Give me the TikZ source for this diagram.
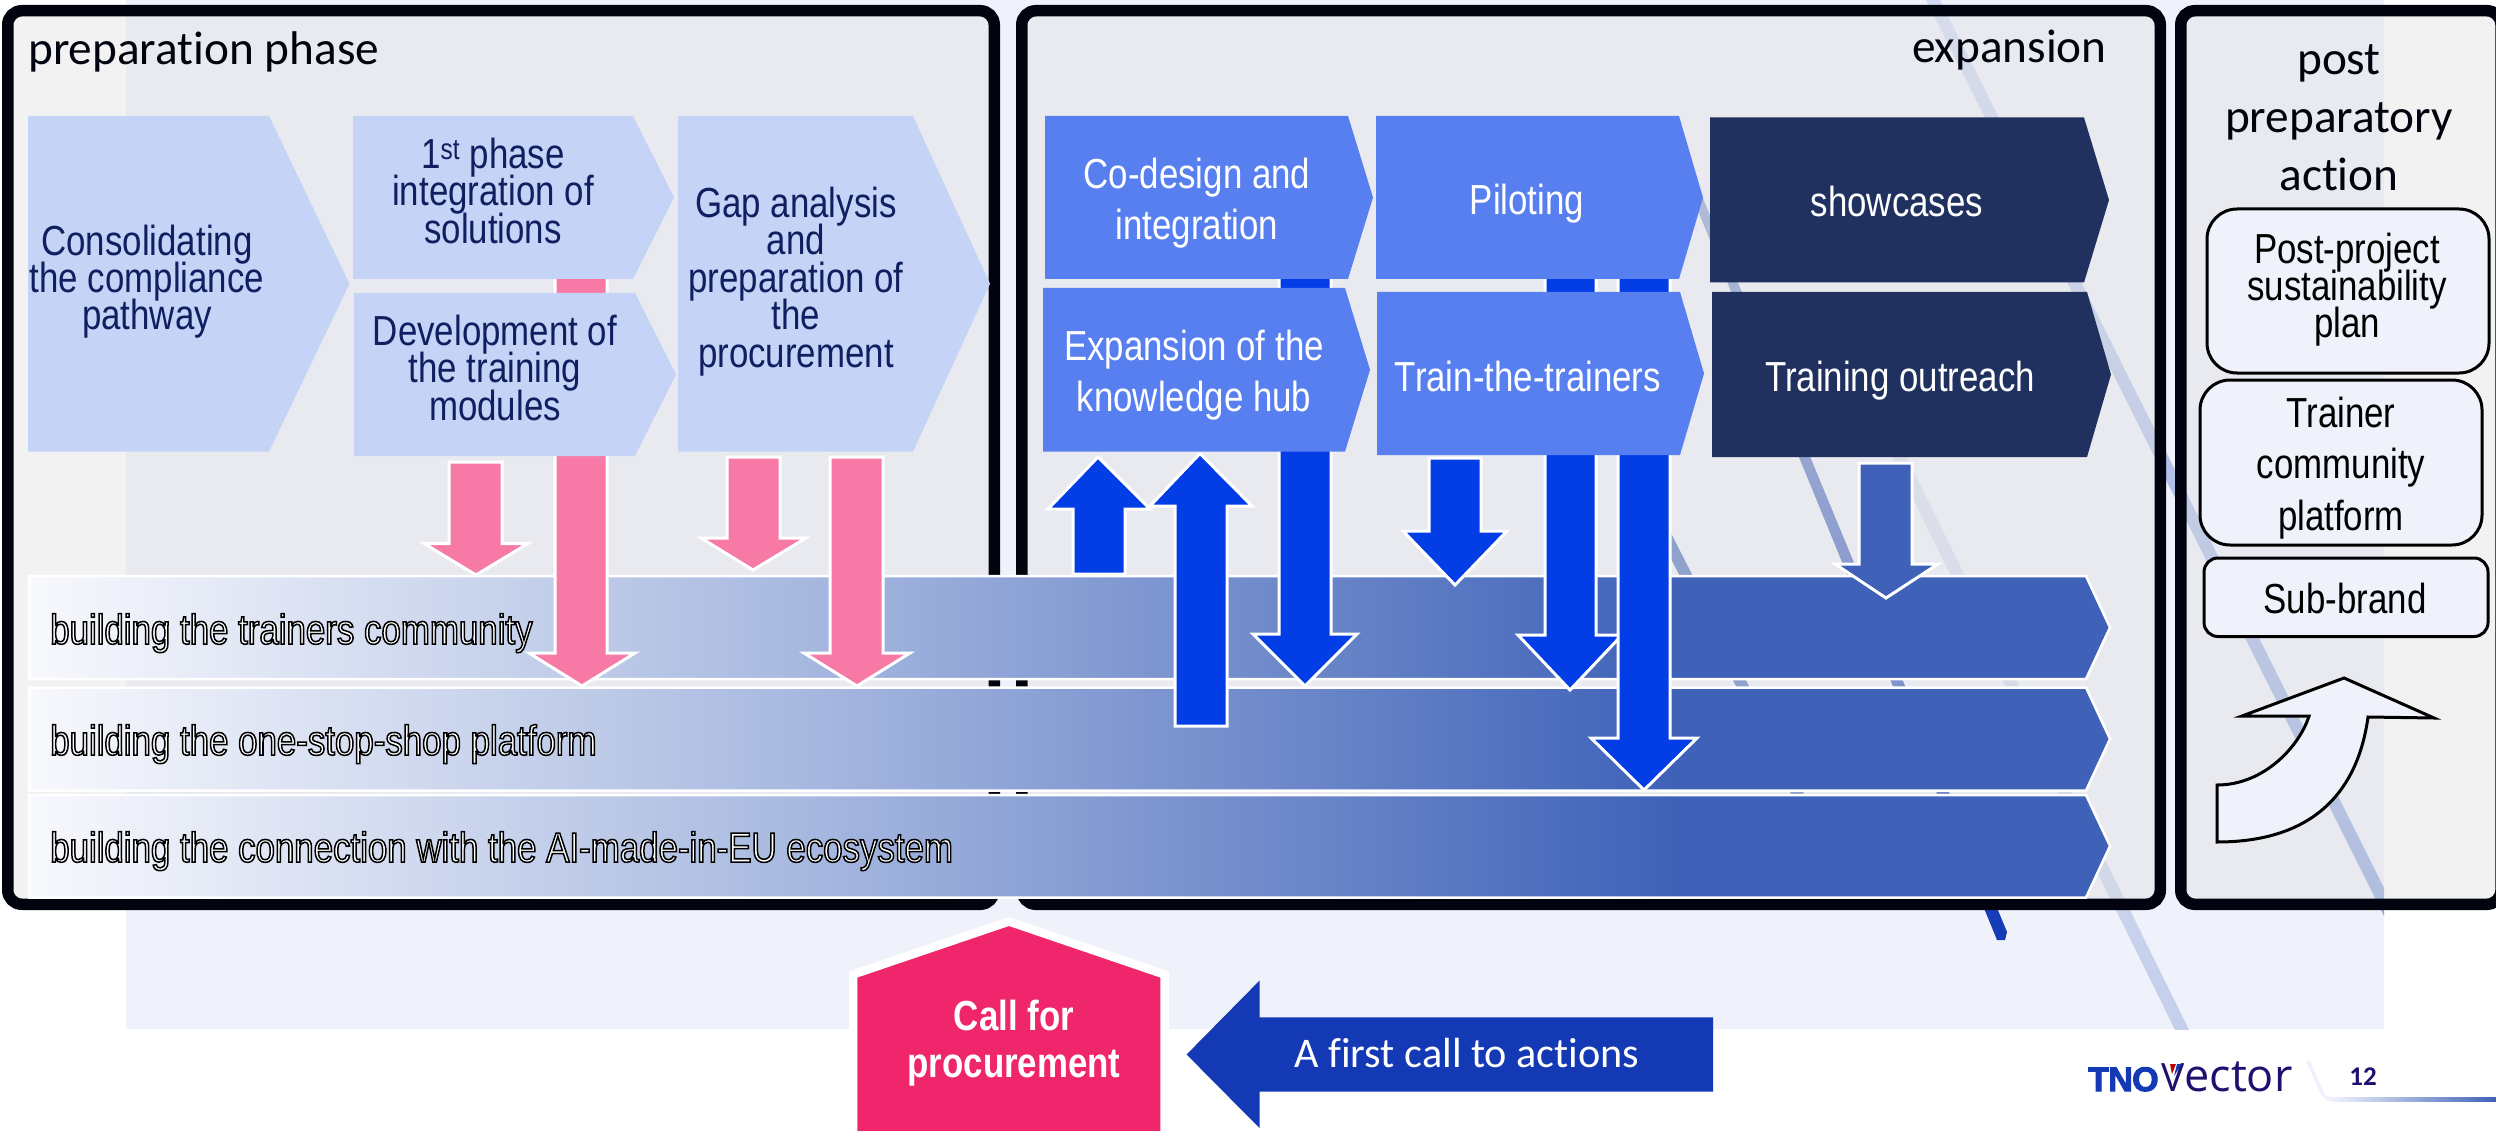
\documentclass[tikz,border=0pt]{standalone}
\usepackage{fontspec}
\setmainfont{Liberation Sans}
\newfontfamily\arialT[FakeStretch=0.83]{Liberation Sans}
\newfontfamily\calib[Ligatures=NoCommon]{Carlito}
\newfontfamily\tnofont[UprightFont={* Bold},FakeBold=3,LetterSpace=-2]{Liberation Sans}
\newfontfamily\vecfont{Open Sans}
\newcommand{\tightlines}{\lineskiplimit=-100pt\relax}
\definecolor{lightbg}{HTML}{EFF2FB}
\definecolor{panelgray}{HTML}{E0E0E0}
\definecolor{borderk}{HTML}{01030F}
\definecolor{chevlight}{HTML}{C5D3F7}
\definecolor{chevmid}{HTML}{577FEF}
\definecolor{chevdark}{HTML}{20315F}
\definecolor{navytext}{HTML}{0F1F5F}
\definecolor{pinkarr}{HTML}{F67AA5}
\definecolor{bluearr}{HTML}{023DE6}
\definecolor{steelarr}{HTML}{3F62B8}
\definecolor{callpink}{HTML}{EF266C}
\definecolor{callblue}{HTML}{1339B5}
\definecolor{pagenum}{HTML}{200F6E}
\definecolor{barA}{HTML}{F8F9FD}
\definecolor{barB}{HTML}{A8B9E0}
\definecolor{barC}{HTML}{3F62B8}
\definecolor{diagAtop}{HTML}{D3DBF4}
\definecolor{diagAbot}{HTML}{90A7DE}
\definecolor{diagCtop}{HTML}{DEE3F0}
\definecolor{diagCbot}{HTML}{C3CFEC}
\definecolor{diagBtop}{HTML}{9AABD2}
\definecolor{lineAcol}{HTML}{587AC0}
\pgfdeclarehorizontalshading{barshade}{100bp}{color(0bp)=(barA);color(25bp)=(barA);color(43.5bp)=(barB);color(64.5bp)=(barC);color(100bp)=(barC)}
\newcommand{\outlined}[1]{\special{pdf:code 2 Tr 1.5 w 0 G 1 g}#1\special{pdf:code 0 Tr 0 g 0 G}}
\newcommand{\chevshape}[6]{\fill[#1] (#2,#3)--(#4,#3)--(#5,{(#3+#6)/2})--(#4,#6)--(#2,#6)--cycle;}
% style, shaft left, shaft right, shaft start, head base, head left, head right, tip x, tip y
\newcommand{\blockarrow}[9]{\draw[#1] (#2,#4)--(#3,#4)--(#3,#5)--(#7,#5)--(#8,#9)--(#6,#5)--(#2,#5)--cycle;}
\tikzset{
  panelfill/.style={fill=panelgray,fill opacity=.4,rounded corners=14},
  panelline/.style={draw=borderk,line width=11.5,rounded corners=14},
  pinkblock/.style={fill=pinkarr,draw=white,line width=3,miter limit=10},
  blueblock/.style={fill=bluearr,draw=white,line width=3,miter limit=10},
  steelblock/.style={fill=steelarr,draw=white,line width=3,miter limit=10},
  barshape/.style={shade,shading=barshade,draw=white,line width=2.5},
  sidebox/.style={fill=lightbg,draw=black,line width=3},
  navylabel/.style={font=\tightlines\arialT\fontsize{42}{37.4}\selectfont,text=navytext,align=center,inner sep=0,anchor=base},
  whitelabel/.style={font=\tightlines\arialT\fontsize{42}{51}\selectfont,text=white,align=center,inner sep=0,anchor=base},
  sidelabel/.style={font=\tightlines\arialT\fontsize{42}{#1}\selectfont,text=black,align=center,inner sep=0,anchor=base},
  barlabel/.style={font=\arialT\fontsize{42}{37}\selectfont,inner sep=0,anchor=base west},
  headlabel/.style={font=\tightlines\calib\fontsize{47.3}{58}\selectfont,text=borderk,inner sep=0,align=center,anchor=base},
}
\begin{document}
\begin{tikzpicture}[x=1pt,y=-1pt]
\useasboundingbox (0,0) rectangle (2496,1131);
\fill[white] (0,0) rectangle (2496,1131);
\fill[lightbg] (126,0) rectangle (2384,1029);
% background diagonals
\begin{scope}
\clip (126,0) rectangle (2384,1029);
\shade[top color=diagAtop,bottom color=diagAbot] (1926,0)--(1940,0)--(2399,918)--(2385,918)--cycle;
\shade[top color=diagCtop,bottom color=diagCbot] (1815,300)--(1829,300)--(2194,1040)--(2180,1040)--cycle;
\shade[top color=diagBtop,bottom color=callblue] (1673,150)--(1683,150)--(2007,932)--(2005,940)--(1997,940)--cycle;
\fill[lineAcol] (1590,400)--(1603,400)--(1848,880)--(1835,880)--cycle;
\end{scope}
% panels
\path[panelfill] (7.75,10.75) rectangle (994.25,904.25);
\path[panelfill] (1021.75,10.75) rectangle (2160.25,904.25);
\path[panelfill] (2180.75,10.75) rectangle (2501,904.25);
\path[panelline] (7.75,10.75) rectangle (994.25,904.25);
\path[panelline] (1021.75,10.75) rectangle (2160.25,904.25);
\path[panelline] (2180.75,10.75) rectangle (2501,904.25);
% bars
\path[barshape] (29,576)--(2086,576)--(2110,627.5)--(2086,679)--(29,679)--cycle;
\path[barshape] (29,687.5)--(2086,687.5)--(2110,739)--(2086,790.5)--(29,790.5)--cycle;
\path[barshape] (29,795)--(2086,795)--(2110,846)--(2086,897.5)--(29,897.5)--cycle;
% block arrows
\blockarrow{pinkblock}{449}{502}{462}{543.5}{424}{528}{476}{575}
\blockarrow{pinkblock}{555}{607}{270}{653}{529}{635}{582}{686}
\blockarrow{pinkblock}{727}{780}{457}{538}{701}{806}{753}{570}
\blockarrow{pinkblock}{830}{883}{457}{653}{804}{910}{857}{686}
\blockarrow{blueblock}{1073}{1125}{574}{509}{1048}{1150}{1098}{457}
\blockarrow{blueblock}{1175}{1227}{726}{506}{1150}{1252}{1200}{453.5}
\blockarrow{blueblock}{1279}{1331}{270}{634}{1253}{1357}{1305}{686}
\blockarrow{blueblock}{1429}{1481}{458}{531}{1403}{1507}{1455}{585}
\blockarrow{blueblock}{1545}{1596}{270}{635}{1518}{1622}{1570}{690}
\blockarrow{blueblock}{1618}{1670}{270}{738}{1591}{1697}{1644}{790}
\blockarrow{steelblock}{1859}{1912}{463}{564}{1835}{1938}{1886}{598}
% chevrons
\chevshape{chevlight}{28}{116}{269}{349.5}{451.6}
\chevshape{chevlight}{353}{116}{633}{674}{279}
\chevshape{chevlight}{354}{293}{635}{676}{456}
\chevshape{chevlight}{678}{116}{913}{990}{451.6}
\chevshape{chevmid}{1045}{116}{1348}{1373}{279}
\chevshape{chevmid}{1376}{116}{1679}{1703}{279}
\chevshape{chevdark}{1710}{117.5}{2084}{2109}{282.5}
\chevshape{chevmid}{1043}{288}{1345}{1370}{451.6}
\chevshape{chevmid}{1377}{292}{1680}{1704}{455}
\chevshape{chevdark}{1712}{292}{2087}{2111}{457}
% side boxes and curved arrow
\draw[sidebox,rounded corners=30] (2207,209) rectangle (2489,373);
\draw[sidebox,rounded corners=30] (2200,380) rectangle (2482,545);
\draw[sidebox,rounded corners=14] (2204,558) rectangle (2488,636.5);
\draw[sidebox,line join=miter] (2217,785) .. controls (2265,785) and (2300,745) .. (2309,716) --(2242,716)--(2344,678)--(2434,718)--(2368,717) .. controls (2358,790) and (2315,842) .. (2217,842) --cycle;
% call shapes
\draw[fill=callpink,draw=white,line width=8.5,miter limit=10] (853,1150)--(853,974.5)--(1009,921.5)--(1164.5,974.5)--(1164.5,1150)--cycle;
\fill[white] (840,1130.5) rectangle (1180,1150);
\fill[callblue] (1186.6,1054.5)--(1259.5,980.6)--(1259.5,1017.4)--(1713,1017.4)--(1713,1091.7)--(1259.5,1091.7)--(1259.5,1128)--cycle;
% footer
\fill[lightbg] (2306,1061)--(2310,1061)--(2325,1095)--(2332,1097.5)--(2332,1101.5)--(2326,1100)--(2321,1095)--cycle;
\shade[left color=lightbg,right color=steelarr] (2332,1097.5) rectangle (2496,1101.5);
% texts
\node[headlabel,anchor=base west] (tprep) at (28,65) {preparation phase};
\node[headlabel,anchor=base east] (texp) at (2107,63) {expansion};
\node[headlabel] (tpost) at (2339,191) {post\\preparatory\\action};
\node[navylabel] (tcons) at (147,330) {Consolidating\\the compliance\\pathway};
\node[navylabel] (tfirst) at (493,243.4) {1\textsuperscript{st} phase\\integration of\\solutions};
\node[navylabel] (tdev) at (495,420) {Development of\\the training\\modules};
\node[navylabel] (tgap) at (796,367) {Gap analysis\\and\\preparation of\\the\\procurement};
\node[whitelabel] (tco) at (1197,240) {Co-design and\\integration};
\node[whitelabel] (tpil) at (1527,214.5) {Piloting};
\node[whitelabel] (tshow) at (1897,217) {showcases};
\node[whitelabel] (texph) at (1194,411) {Expansion of the\\knowledge hub};
\node[whitelabel] (ttrain) at (1528,391.5) {Train-the-trainers};
\node[whitelabel] (tout) at (1900,391.5) {Training outreach};
\node[barlabel] (tbar1) at (50,644) {\outlined{building the trainers community}};
\node[barlabel] (tbar2) at (50,755) {\outlined{building the one-stop-shop platform}};
\node[barlabel] (tbar3) at (50,862) {\outlined{building the connection with the AI-made-in-EU ecosystem}};
\node[sidelabel=37] (tsust) at (2347,337.5) {Post-project\\sustainability\\plan};
\node[sidelabel=51.5] (tcomm) at (2341,530) {Trainer\\community\\platform};
\node[sidelabel=37] (tsub) at (2345,613) {Sub-brand};
\node[font=\bfseries\arialT\fontsize{42}{47}\selectfont,text=white,align=center,inner sep=0,anchor=base] (tcall) at (1014,1077) {Call for\\procurement};
\node[font=\calib\fontsize{42.2}{50}\selectfont,text=white,inner sep=0,anchor=base] (tact) at (1467,1067) {A first call to actions};
\node[font=\tnofont\fontsize{34}{36}\selectfont,text=callblue,inner sep=0,anchor=base west] (ttno) at (2088,1091) {TNO};
\node[font=\vecfont\fontsize{45}{48}\selectfont,text=pagenum,inner sep=0,anchor=base west] (tvec) at (2161,1091) {{\fontsize{39}{40}\selectfont V}ector};
\fill[red!75!black] (2170,1064)--(2176,1064)--(2172,1074)--cycle;
\fill[callblue] (2177,1064)--(2182,1064)--(2174,1076)--cycle;
\node[font=\calib\bfseries\fontsize{27}{30}\selectfont,text=pagenum,inner sep=0,anchor=base] (tpage) at (2363,1085) {12};
\end{tikzpicture}
\end{document}
